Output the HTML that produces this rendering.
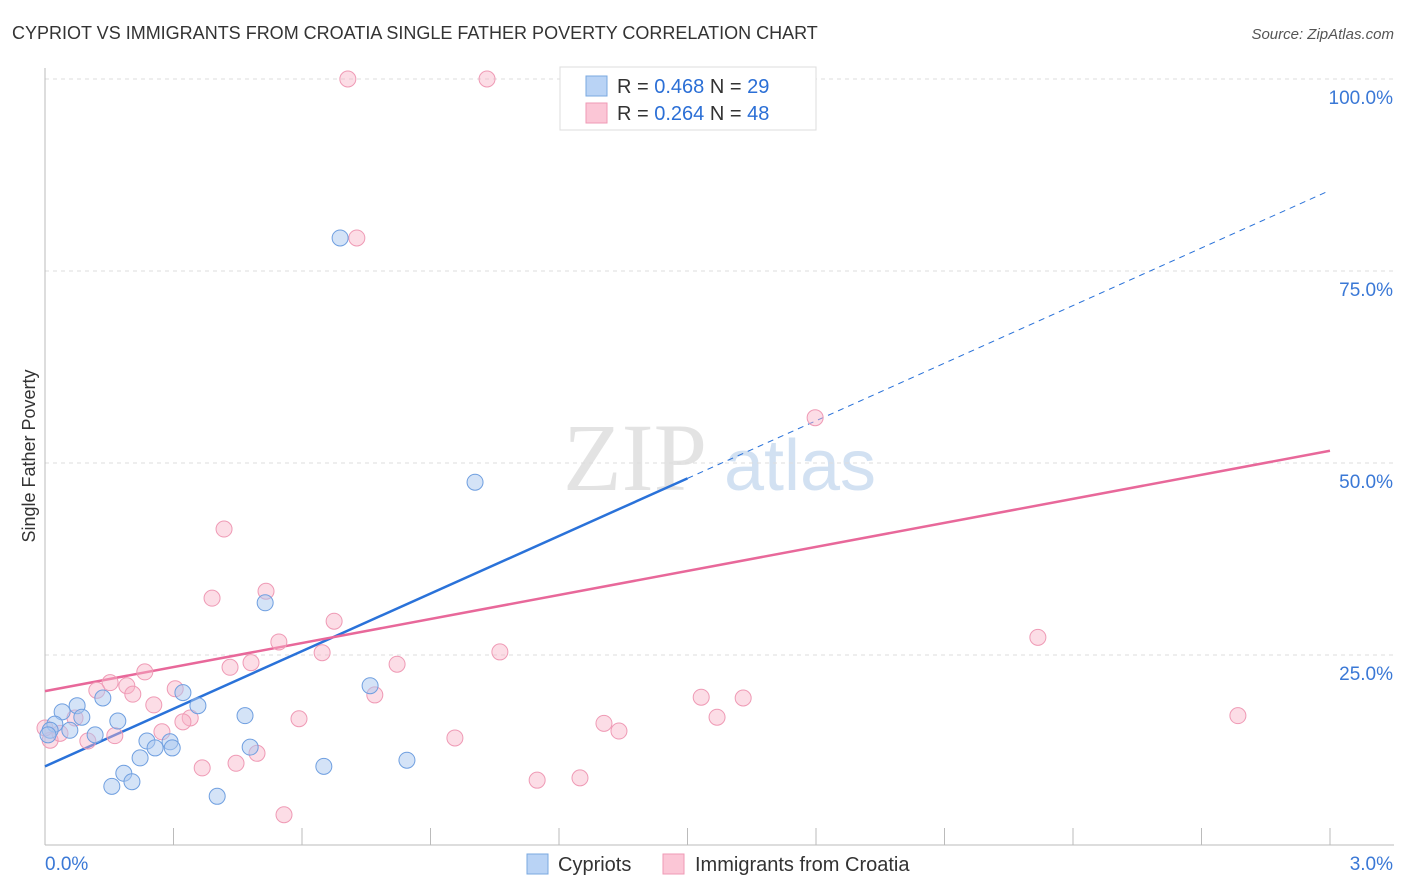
<!DOCTYPE html>
<html><head><meta charset="utf-8">
<style>
body{margin:0;background:#fff;font-family:"Liberation Sans",sans-serif;}
#wrap{position:relative;width:1406px;height:892px;overflow:hidden;}
</style></head>
<body>
<div id="wrap">
<svg id="svg" width="1406" height="892">
<text x="12" y="39" font-size="18" fill="#333">CYPRIOT VS IMMIGRANTS FROM CROATIA SINGLE FATHER POVERTY CORRELATION CHART</text>
<text x="1394" y="39" font-size="15" fill="#555" font-style="italic" text-anchor="end">Source: ZipAtlas.com</text>
<text x="35" y="456" font-size="18" fill="#333" text-anchor="middle" transform="rotate(-90 35 456)">Single Father Poverty</text>
<g>
<text x="635" y="490" font-size="96" fill="#ddd" font-family="Liberation Serif" text-anchor="middle" opacity="0.8">ZIP</text>
<text x="800" y="490" font-size="72" fill="#c8daf0" text-anchor="middle" opacity="0.8">atlas</text>
</g>
<g id="grid"></g><g id="lines"></g><g id="pts"></g>
<g>
<rect x="560" y="67" width="256" height="63" fill="#fff" stroke="#ddd"/>
<rect x="586" y="76" width="21" height="20" fill="#b9d3f5" stroke="#7aa8e0"/>
<rect x="586" y="103" width="21" height="20" fill="#fbc6d6" stroke="#ef9ab5"/>
<text x="617" y="93" font-size="20" fill="#333">R = <tspan fill="#2b6fd6">0.468</tspan>   N = <tspan fill="#2b6fd6">29</tspan></text>
<text x="617" y="120" font-size="20" fill="#333">R = <tspan fill="#2b6fd6">0.264</tspan>   N = <tspan fill="#2b6fd6">48</tspan></text>
</g>
<g>
<rect x="527" y="854" width="21" height="20" fill="#b9d3f5" stroke="#7aa8e0"/>
<text x="558" y="871" font-size="20" fill="#333">Cypriots</text>
<rect x="663" y="854" width="21" height="20" fill="#fbc6d6" stroke="#ef9ab5"/>
<text x="695" y="871" font-size="20" fill="#333">Immigrants from Croatia</text>
</g>
</svg>
</div>
<script>
const blueX=[0.689,1.004,0.514,0.322,0.759,0.357,0.467,0.170,0.135,0.075,0.086,0.040,0.023,0.012,0.058,0.117,0.238,0.292,0.297,0.257,0.479,0.222,0.184,0.651,0.845,0.156,0.203,0.402,0.007];
const blueY=[79.3,47.5,31.8,20.1,21.0,18.4,17.1,16.4,19.4,18.4,16.9,17.6,16.0,15.2,15.2,14.6,13.8,13.7,12.9,12.9,13.0,11.6,9.6,10.5,11.3,7.9,8.5,6.6,14.6];
const pinkX=[0.707,1.032,1.380,1.765,0.728,1.798,0.418,0.390,0.516,0.675,0.546,2.318,0.647,1.062,0.822,0.481,0.432,0.233,0.304,0.152,0.191,0.121,0.205,0.770,1.532,1.630,0.254,0.339,0.322,0.593,1.305,1.569,2.785,1.340,0.273,0.163,0.957,0.100,0.495,0.446,0.367,1.149,1.249,0.558,0.012,0.035,0.070,0.0];
const pinkY=[100,100,100,100,79.3,55.9,41.4,32.4,33.3,29.4,26.7,27.3,25.3,25.4,23.8,24.0,23.4,22.8,20.6,21.4,21.0,20.4,19.9,19.8,19.5,19.4,18.5,16.8,16.3,16.7,16.1,16.9,17.1,15.1,15.0,14.5,14.2,13.8,12.2,10.9,10.3,8.7,9.0,4.2,13.9,14.8,16.8,15.5];
const blueFit=[10.5,25.0]; // intercept, slope per 1%
const pinkFit=[20.3,10.43];
const yTicks=[25,50,75,100];
const xTickLabels=["0.0%","3.0%"];
const X=v=>45+v*428.33, Y=v=>847-v*7.68;
const NS="http://www.w3.org/2000/svg";
function mk(t,a,p){const e=document.createElementNS(NS,t);for(const k in a)e.setAttribute(k,a[k]);p.appendChild(e);return e;}
const grid=document.getElementById('grid'),lines=document.getElementById('lines'),pts=document.getElementById('pts');
yTicks.forEach(v=>{
 const l=mk('line',{x1:45,x2:1394,y1:Y(v),y2:Y(v),stroke:'#ddd','stroke-dasharray':'4,4'},grid);
 
 
 const t=mk('text',{x:1393,y:Y(v)+25,'font-size':19,fill:'#3a78d6','text-anchor':'end'},grid);t.textContent=v.toFixed(1)+'%';
 
 
});
mk('line',{x1:45,x2:1394,y1:Y(100),y2:Y(100),stroke:'#ddd','stroke-dasharray':'4,4'},grid);
const ax=mk('line',{x1:45,x2:1394,y1:845,y2:845,stroke:'#bbb'},grid);


mk('line',{x1:45,x2:45,y1:68,y2:845,stroke:'#bbb'},grid);
for(let i=0;i<=10;i++){const x=X(i*0.3);mk('line',{x1:x,x2:x,y1:828,y2:845,stroke:'#bbb'},grid);}
xTickLabels.forEach((s,i)=>{const t=mk('text',{x:i?1393:45,y:870,'font-size':19,fill:'#3a78d6','text-anchor':i?'end':'start'},grid);t.textContent=s;
 
 });
const fy=(f,x)=>f[0]+f[1]*x;
let l1=mk('line',{x1:X(0),y1:Y(fy(blueFit,0)),x2:X(1.5),y2:Y(fy(blueFit,1.5)),stroke:'#2a72d9','stroke-width':2.5},lines);


let l2=mk('line',{x1:X(1.5),y1:Y(fy(blueFit,1.5)),x2:X(2.99),y2:Y(fy(blueFit,2.99)),stroke:'#2a72d9','stroke-width':1,'stroke-dasharray':'6,5'},lines);


let l3=mk('line',{x1:X(0),y1:Y(fy(pinkFit,0)),x2:X(3),y2:Y(fy(pinkFit,3)),stroke:'#e8689a','stroke-width':2.5},lines);


pinkX.forEach((x,i)=>{const c=mk('circle',{cx:X(x),cy:Y(pinkY[i]),r:8,fill:'rgba(248,180,200,0.45)',stroke:'#ef9ab5','stroke-width':1},pts);
 
 });
blueX.forEach((x,i)=>{const c=mk('circle',{cx:X(x),cy:Y(blueY[i]),r:8,fill:'rgba(170,200,240,0.5)',stroke:'#6f9fe0','stroke-width':1},pts);
 
 });
</script>
</body></html>
